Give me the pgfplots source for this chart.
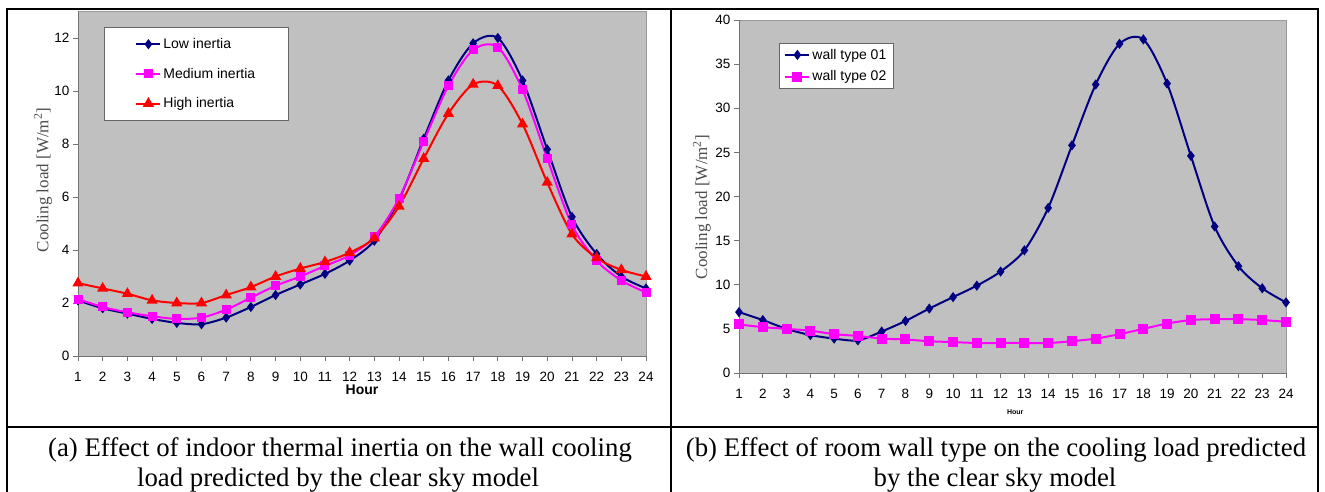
\documentclass[border=0pt]{standalone}
\usepackage{fontspec}
\setmainfont{Liberation Sans}
\newfontfamily\timesfont{Liberation Serif}
\usepackage{pgfplots}
\pgfplotsset{compat=1.18}
\definecolor{plotgray}{HTML}{C0C0C0}
\definecolor{navyc}{HTML}{000080}
\definecolor{magc}{HTML}{FF00FF}
\definecolor{redc}{HTML}{FF0000}
\pgfplotsset{
  excelstyle/.style={
    scale only axis,
    xmin=1, xmax=24, ymin=0,
    xtick={1,...,24},
    axis background/.style={fill=plotgray, draw=black!40, line width=0.6pt},
    axis x line*=bottom, axis y line*=left,
    axis line style={draw=black!55, line width=0.8pt},
    tick align=outside, major tick length=5pt,
    tick style={draw=black!55, line width=0.8pt},
    /pgf/number format/assume math mode=true,
    ticklabel style={font=\fontsize{13.5}{13.5}\selectfont},
    every axis plot/.append style={smooth, line width=2pt, mark options={solid}},
    legend cell align=left,
    legend image code/.code={\draw[mark repeat=2,mark phase=2] plot coordinates {(0pt,0pt)(12pt,0pt)(24pt,0pt)};},
    ylabel style={font=\timesfont\fontsize{17}{17}\selectfont, color=black!70},
    xlabel style={anchor=center},
  }
}
\begin{document}
\begin{tikzpicture}
\useasboundingbox (0pt,0pt) rectangle (1325pt,491pt);
\draw[line width=2.2pt] (7pt,-5pt) rectangle (1318pt,482pt);
\draw[line width=2.2pt] (7pt,64pt) -- (1318pt,64pt);
\draw[line width=2.2pt] (671pt,-5pt) -- (671pt,482pt);

\begin{axis}[excelstyle,
  at={(78pt,135pt)}, anchor=south west, width=568pt, height=344.5pt,
  ymax=13, ytick={0,2,...,12},
  xticklabel style={yshift=-7.5pt},
  xlabel={Hour},
  xlabel style={font=\bfseries\fontsize{14}{14}\selectfont, at={(axis description cs:0.5,-0.0975)}},
  ylabel={Cooling load [W/m\textsuperscript{2}]},
  ylabel style={at={(axis description cs:-0.0616,0.511)}, anchor=center},
  legend style={at={(0.0458,0.955)}, anchor=north west, draw=black!60, fill=white,
    font=\fontsize{14}{14}\selectfont, row sep=14pt, inner xsep=31pt, inner ysep=9pt, line width=0.8pt},
]
\addplot[color=navyc, mark=diamond*, mark size=3.5pt] coordinates {
(1,2.1)(2,1.8)(3,1.6)(4,1.4)(5,1.25)(6,1.2)(7,1.45)(8,1.85)(9,2.3)(10,2.7)(11,3.1)(12,3.6)
(13,4.35)(14,5.9)(15,8.2)(16,10.4)(17,11.8)(18,12.0)(19,10.4)(20,7.8)(21,5.25)(22,3.85)(23,3.0)(24,2.55)};
\addlegendentry{Low inertia}
\addplot[color=magc, mark=square*, mark size=3.5pt] coordinates {
(1,2.15)(2,1.85)(3,1.65)(4,1.5)(5,1.4)(6,1.45)(7,1.75)(8,2.2)(9,2.65)(10,3.0)(11,3.4)(12,3.8)
(13,4.5)(14,5.95)(15,8.1)(16,10.2)(17,11.55)(18,11.65)(19,10.05)(20,7.45)(21,4.95)(22,3.6)(23,2.85)(24,2.4)};
\addlegendentry{Medium inertia}
\addplot[color=redc, mark=triangle*, mark size=4.5pt] coordinates {
(1,2.75)(2,2.55)(3,2.35)(4,2.1)(5,2.0)(6,2.0)(7,2.3)(8,2.6)(9,3.0)(10,3.3)(11,3.55)(12,3.9)
(13,4.45)(14,5.65)(15,7.45)(16,9.15)(17,10.25)(18,10.2)(19,8.75)(20,6.55)(21,4.6)(22,3.7)(23,3.25)(24,3.0)};
\addlegendentry{High inertia}
\end{axis}

\begin{axis}[excelstyle,
  at={(739pt,118pt)}, anchor=south west, width=547pt, height=353pt,
  ymax=40, ytick={0,5,...,40},
  xticklabel style={yshift=-8pt},
  xlabel={Hour},
  xlabel style={font=\bfseries\fontsize{7}{7}\selectfont, at={(axis description cs:0.505,-0.1105)}},
  ylabel={Cooling load [W/m\textsuperscript{2}]},
  ylabel style={at={(axis description cs:-0.068,0.47)}, anchor=center},
  legend style={at={(0.0731,0.9357)}, anchor=north west, draw=black!60, fill=white,
    font=\fontsize{14}{14}\selectfont, row sep=6pt, inner xsep=5pt, inner ysep=4pt, line width=0.8pt},
]
\addplot[color=navyc, mark=diamond*, mark size=3.5pt] coordinates {
(1,6.9)(2,6.0)(3,5.0)(4,4.3)(5,3.9)(6,3.7)(7,4.7)(8,5.9)(9,7.3)(10,8.6)(11,9.9)(12,11.5)
(13,13.9)(14,18.7)(15,25.8)(16,32.7)(17,37.3)(18,37.8)(19,32.8)(20,24.6)(21,16.6)(22,12.1)(23,9.6)(24,8.0)};
\addlegendentry{wall type 01}
\addplot[color=magc, mark=square*, mark size=4pt] coordinates {
(1,5.5)(2,5.2)(3,5.0)(4,4.8)(5,4.4)(6,4.2)(7,3.9)(8,3.8)(9,3.6)(10,3.5)(11,3.4)(12,3.4)
(13,3.4)(14,3.4)(15,3.6)(16,3.9)(17,4.4)(18,5.0)(19,5.6)(20,6.0)(21,6.1)(22,6.1)(23,6.0)(24,5.8)};
\addlegendentry{wall type 02}
\end{axis}

\node[font=\timesfont\fontsize{26.8}{30}\selectfont, anchor=base] at (340pt,35pt) {(a) Effect of indoor thermal inertia on the wall cooling};
\node[font=\timesfont\fontsize{26.8}{30}\selectfont, anchor=base] at (338pt,5pt) {load predicted by the clear sky model};
\node[font=\timesfont\fontsize{26.8}{30}\selectfont, anchor=base] at (996pt,35pt) {(b) Effect of room wall type on the cooling load predicted};
\node[font=\timesfont\fontsize{26.8}{30}\selectfont, anchor=base] at (995pt,5pt) {by the clear sky model};
\end{tikzpicture}
\end{document}
